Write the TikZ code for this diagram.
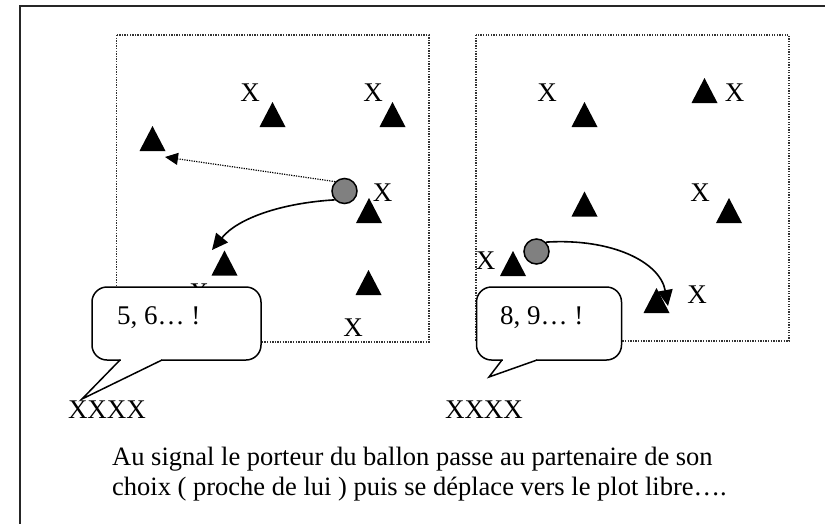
\documentclass[tikz,border=0pt]{standalone}
\usepackage{fontspec}
\setmainfont{Liberation Serif}
\usetikzlibrary{arrows.meta}
\begin{document}
\begin{tikzpicture}[x=1pt,y=-1pt,
  field/.style={line width=1.4pt,black!80,dash pattern=on 1.3pt off 1.3pt},
  letter/.style={inner sep=0pt,font=\fontsize{27}{30}\selectfont},
  ball/.style={circle,draw=black,line width=1.5pt,fill=black!50,minimum size=25pt,inner sep=0pt},
  pass/.style={line width=1.6pt,-{Triangle[length=16pt,width=15pt]}},
  run/.style={line width=1.2pt,dash pattern=on 1.2pt off 1.2pt,-{Triangle[length=13pt,width=12pt]}},
  bubble/.style={draw=black,line width=1.5pt,fill=white,rounded corners=15pt,inner sep=0pt},
  tail/.style={line width=1.5pt,line join=miter},
  cone/.pic={\fill (-13,12.5) -- (13,12.5) -- (0,-12.5) -- cycle;}
]
\useasboundingbox (0,0) rectangle (825,523);
% outer frame
\draw[line width=2.2pt,black!85] (20,530) -- (20,6) -- (830,6);
% fields
\draw[field] (116.5,35) rectangle (429,342);
\draw[field] (476,35) rectangle (789,341);

% ---- left field
\node[letter] (xa) at (250,92.5) {X};
\node[letter] (xb) at (373,92.5) {X};
\node[letter] (xc) at (382.5,193) {X};
\node[letter] (xd) at (353,328) {X};
\node[letter] (xe) at (199,293) {X};
\pic at (272.5,114.5) {cone};
\pic at (392.5,114.5) {cone};
\pic at (152.5,138.5) {cone};
\pic at (369,210.5) {cone};
\pic at (224.5,263) {cone};
\pic at (368.5,282.5) {cone};
\node[ball] (b1) at (344.5,191) {};
\coordinate (e1) at (165,157);
\coordinate (e2) at (212,250);
\draw[run] (b1.135) -- (e1);
\draw[pass] (b1.222) .. controls (282,203) and (238,218) .. (e2);

% ---- right field
\node[letter] (xf) at (547,92.5) {X};
\node[letter] (xg) at (734.5,92.5) {X};
\node[letter] (xh) at (700,192.5) {X};
\node[letter] (xi) at (485.5,261) {X};
\node[letter] (xj) at (697,294.5) {X};
\pic at (584.5,114.5) {cone};
\pic at (704.5,90.5) {cone};
\pic at (584.5,204) {cone};
\pic at (729,210.5) {cone};
\pic at (513,263.5) {cone};
\pic at (656.5,300.5) {cone};
\node[ball] (b2) at (536.5,251.5) {};
\coordinate (e3) at (668,306);
\draw[pass] (b2.45) .. controls (612,238) and (660,262) .. (e3);

% ---- callouts
\node[bubble,minimum width=169pt,minimum height=73pt] (c1) at (176.5,323.5) {};
\fill[white] (121,352) -- (161,352) -- (161,361.5) -- (82,398) -- (121,361.5) -- cycle;
\coordinate (t1) at (82,399);
\draw[tail] (120,360) -- (t1) -- (162,360);
\node[letter,anchor=west] at (117,318) {5, 6… !};

\node[bubble,minimum width=145pt,minimum height=73pt] (c2) at (549,323.5) {};
\fill[white] (503,352) -- (536,352) -- (536,361.5) -- (489,377) -- (503,361.5) -- cycle;
\coordinate (t2) at (489,377);
\draw[tail] (502,360) -- (t2) -- (537,360);
\node[letter,anchor=west] at (500,318) {8, 9… !};

% ---- teams
\node[letter] (ta) at (107,409.5) {XXXX};
\node[letter] (tb) at (484,409.5) {XXXX};

% ---- caption
\node[inner sep=0pt,anchor=base west,font=\fontsize{26.5}{30}\selectfont] (cap1) at (112,465) {Au signal le porteur du ballon passe au partenaire de son};
\node[inner sep=0pt,anchor=base west,font=\fontsize{26.5}{30}\selectfont] (cap2) at (112,495) {choix ( proche de lui ) puis se déplace vers le plot libre….};
\end{tikzpicture}
\end{document}
